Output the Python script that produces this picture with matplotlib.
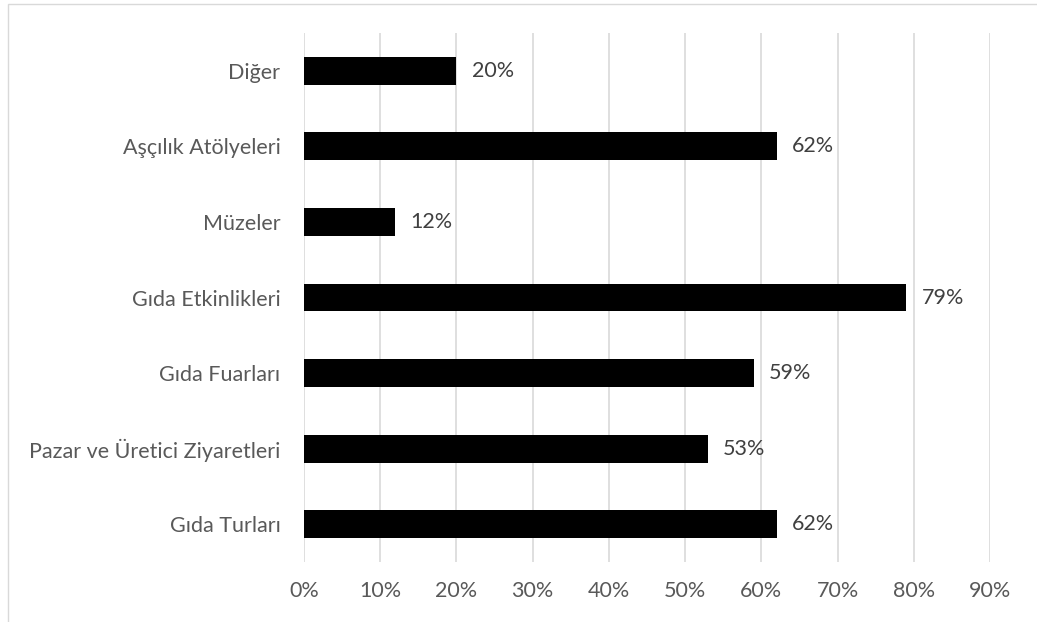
import matplotlib
matplotlib.use("Agg")
import matplotlib.pyplot as plt
from matplotlib.patches import Rectangle

categories = ["Gıda Turları", "Pazar ve Üretici Ziyaretleri", "Gıda Fuarları",
              "Gıda Etkinlikleri", "Müzeler", "Aşçılık Atölyeleri", "Diğer"]
values = [62, 53, 59, 79, 12, 62, 20]
xticks = [0, 10, 20, 30, 40, 50, 60, 70, 80, 90]
xtick_labels = [f"{t}%" for t in xticks]

plt.rcParams['font.family'] = ['Lato', 'DejaVu Sans']
FS = 15.5

fig = plt.figure(figsize=(10.37, 6.22), dpi=100)
fig.patches.append(Rectangle((8/1037, -0.1), 1.2, 1 - 4/622 + 0.1, transform=fig.transFigure,
                             fill=False, edgecolor='#d9d9d9', linewidth=1.0))
ax = fig.add_axes([304/1037, 1 - 562/622, (990 - 304)/1037, (562 - 33)/622])

y = list(range(len(categories)))
ax.barh(y, values, height=0.37, color='black', zorder=3)
for yi, v in zip(y, values):
    ax.annotate(f"{v}%", (v, yi), xytext=(11, 0), textcoords='offset points',
                va='center', ha='left', fontsize=FS, color='#404040')

ax.set_xlim(0, 90)
ax.set_ylim(-0.5, len(categories) - 0.5)
ax.set_xticks(xticks)
ax.set_xticklabels(xtick_labels, fontsize=FS, color='#595959')
ax.set_yticks(y)
ax.set_yticklabels(categories, fontsize=FS, color='#595959')
ax.tick_params(axis='both', length=0)
ax.tick_params(axis='x', pad=14)
ax.tick_params(axis='y', pad=17)
for s in ax.spines.values():
    s.set_visible(False)
ax.grid(axis='x', color='#d9d9d9', linewidth=1.2, zorder=0)
ax.set_axisbelow(True)

fig.savefig("out.png", dpi=100)
